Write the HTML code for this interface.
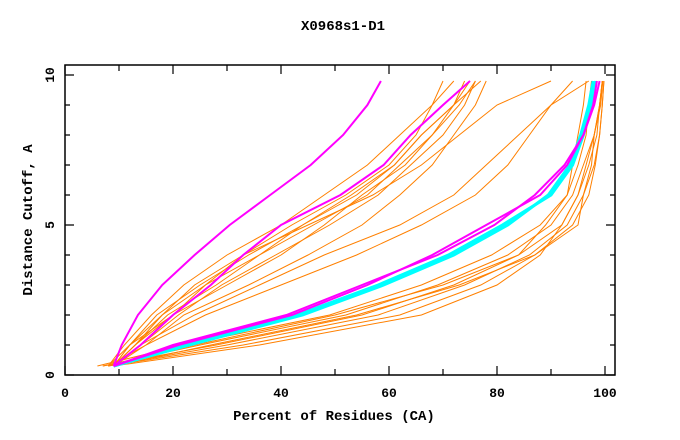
<!DOCTYPE html>
<html><head><meta charset="utf-8"><style>
html,body{margin:0;padding:0;background:#fff;}
svg{display:block;font-family:"Liberation Mono",monospace;font-weight:bold;}
</style></head><body>
<svg id="chart" width="680" height="440" viewBox="0 0 680 440" xmlns="http://www.w3.org/2000/svg">
<text x="343" y="30" text-anchor="middle" font-size="14">X0968s1-D1</text>
<text x="334" y="420" text-anchor="middle" font-size="14">Percent of Residues (CA)</text>
<text transform="translate(32,220) rotate(-90)" text-anchor="middle" font-size="14">Distance Cutoff, A</text>
<g id="ticks"></g>
<g id="series"></g>
<rect x="65" y="65" width="550" height="310" fill="none" stroke="#000" stroke-width="1.5"/>
</svg>
<script>
const cutoffs=[0.3,1,2,3,4,5,6,7,8,9,9.8];
const xTicks=[0,20,40,60,80,100];
const yTicks=[0,5,10];
const magentaSeries=[
[9,10.5,13.5,18,24,30.5,38,45.5,51.5,56,58.5],
[9,14,20,27,33,40,51,59,64,70,75],
[9,21,42,56,68,78,88,93,96,97.8,98.5],
[9,20,41,55,69,79.5,87,92.5,96,98,99]
];
const cyanSeries=[
[9,23,44,59,72,82,89.5,93.5,95.5,97,97.8],
[9,22.5,43,58,71,81,90,94,96,97.5,98.3]
];
const orangeSeries=[
[6,22,49,66,79,88,93,95,96.5,97,97.5],
[7,25,52,69,82,90,94,96,98,99.2,99.6],
[7,28,55,72,84,92,95,97,98.5,99,99.5],
[8,30,58,74,86,93,96,98,99,99.5,99.8],
[8,33,62,77,87,94,97,98.2,99,99.5,99.8],
[9,27,54,73,87,95,96,97.5,98,99,99.5],
[8,24,50,70,84,89,93,94,95,96,96.5],
[9,36,66,80,88,92,95,96.5,98,99,99.5],
[8,11,16,22,30,40,48,56,62,68,70],
[8,12,18,24,33,42,52,60,65,68,72],
[9,13,19,28,36,44,54,61,66,72,74],
[9,13,20,30,40,48,55,63,68,73,76],
[8,15,22,34,45,55,62,68,72,76,78],
[9,12,20,26,33,45,57,66,73,80,90],
[9,14,24,36,48,62,72,78,84,90,94],
[9,15,26,40,54,66,76,82,86,90,97],
[9,12,17,25,34,44,53,61,66,72,75],
[9,14,21,29,39,49,58,64,70,74,76],
[9,13,18,26,36,46,56,62,68,72,77]
];
function sx(v){return 65+v*5.4;}
function sy(v){return 375-v*30;}
const NS="http://www.w3.org/2000/svg";
const tg=document.getElementById('ticks');
for(let i=0;i<=10;i++){
 const x=sx(i*10), big=(i%2===0);
 const l=document.createElementNS(NS,'path');
 l.setAttribute('d',`M${x},375v${big?-9:-6}M${x},65v${big?9:6}`);
 l.setAttribute('stroke','#000');l.setAttribute('stroke-width','1.2');
 
 
 tg.appendChild(l);
 const y=sy(i);
 const m=document.createElementNS(NS,'path');
 m.setAttribute('d',`M65,${y}h${i%5===0?9:5}M615,${y}h${i%5===0?-9:-5}`);
 m.setAttribute('stroke','#000');m.setAttribute('stroke-width','1.2');
 
 
 tg.appendChild(m);
}
xTicks.forEach(v=>{
 const t=document.createElementNS(NS,'text');
 t.setAttribute('x',sx(v));t.setAttribute('y',397);t.setAttribute('text-anchor','middle');t.setAttribute('font-size','13');
 t.textContent=v;
 
 
 tg.appendChild(t);
});
yTicks.forEach(v=>{
 const t=document.createElementNS(NS,'text');
 t.setAttribute('transform',`translate(54,${sy(v)}) rotate(-90)`);t.setAttribute('text-anchor','middle');t.setAttribute('font-size','13');
 t.textContent=v;
 
 
 tg.appendChild(t);
});
const sg=document.getElementById('series');
function draw(arr,color,w,name){
 arr.forEach(s=>{
  const p=document.createElementNS(NS,'polyline');
  p.setAttribute('points',s.map((v,i)=>sx(v)+','+sy(cutoffs[i])).join(' '));
  p.setAttribute('fill','none');p.setAttribute('stroke',color);p.setAttribute('stroke-width',w);
  
  
  sg.appendChild(p);
 });
}
draw(orangeSeries,'#ff8000',1,'orange-model-line');
draw(cyanSeries,'#00ffff',3,'cyan-model-line');
draw(magentaSeries,'#ff00ff',2,'magenta-model-line');
</script>
</body></html>
